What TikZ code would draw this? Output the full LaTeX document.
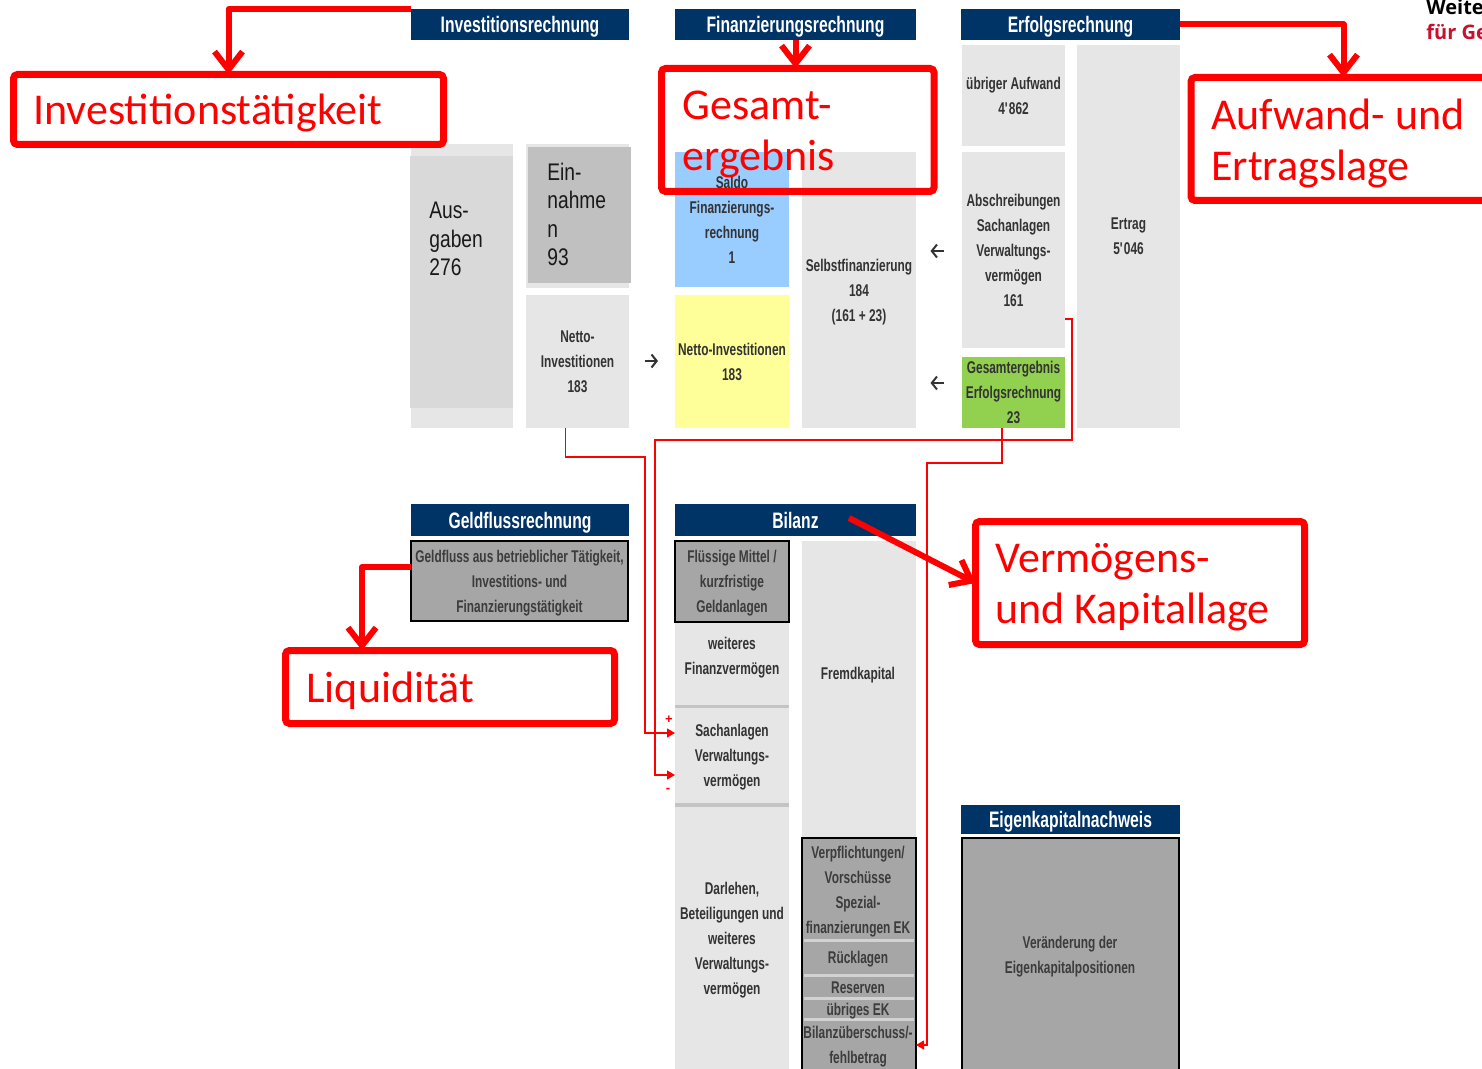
\documentclass[tikz,border=0pt]{standalone}
\usepackage{fontspec}
\setmainfont{Liberation Sans}
\newfontfamily\nar[FakeStretch=0.7]{Liberation Sans}
\newfontfamily\narr[FakeStretch=0.8]{Liberation Sans}
\newfontfamily\calf{Carlito}
\newfontfamily\logof{Open Sans}
\usetikzlibrary{arrows.meta,calc}
\definecolor{navy}{HTML}{003366}
\definecolor{lg}{HTML}{E6E6E6}
\definecolor{lgb}{HTML}{D9D9D9}
\definecolor{gc}{HTML}{C0C0C0}
\definecolor{mg}{HTML}{A6A6A6}
\definecolor{txt}{HTML}{333333}
\definecolor{txtb}{HTML}{3C3C3C}
\definecolor{sblue}{HTML}{99CCFF}
\definecolor{syel}{HTML}{FFFF99}
\definecolor{sgreen}{HTML}{92D050}
\definecolor{logored}{HTML}{C8102E}
\definecolor{sepc}{HTML}{C4C4C4}
\definecolor{sepd}{HTML}{D2D2D2}
\definecolor{annred}{HTML}{FF0000}

\newcommand\bx[7]{\node[#6, minimum width={(#4-#2)*0.5pt}, minimum height={(#5-#3)*0.5pt}] (#1) at ({(#2+#4)/2},{(#3+#5)/2}) {#7};}

\tikzset{
  hdr/.style={fill=navy, text=white, inner sep=0, outer sep=0, text depth=0pt, font=\nar\bfseries\fontsize{11.2}{13}\selectfont},
  lbox/.style={fill=lg, inner sep=0, outer sep=0, text=txt, align=center, text depth=0pt, font=\nar\bfseries\fontsize{8.5}{12.5}\selectfont},
  gbox/.style={lbox, fill=mg, draw=black, line width=1.3pt, text=txtb},
  txtn/.style={inner sep=0, outer sep=0, text=txt, align=center, text depth=0pt, font=\nar\bfseries\fontsize{8.5}{12.5}\selectfont},
  bigtext/.style={inner sep=0, align=left, text=black!90, font=\narr\fontsize{12}{14.3}\selectfont},
  glypharrow/.style={draw=txt, line width=1pt, -{Straight Barb[length=2.6pt,width=6.5pt]}},
  ann/.style={draw=annred, line width=3.5pt, rounded corners=2pt, inner sep=0, outer sep=0},
  anntext/.style={inner sep=0, text=annred, font=\calf\fontsize{22}{25}\selectfont, anchor=base west},
  bigarrow/.style={draw=annred, line width=3pt, line join=round, -{Straight Barb[length=9pt,width=14pt]}},
  thinarrow/.style={draw=annred, line width=0.6pt, -{Triangle[length=4pt,width=4.5pt]}},
  pm/.style={inner sep=0, text=annred, font=\bfseries\fontsize{6.5}{7}\selectfont},
}

\begin{document}
\begin{tikzpicture}[x=0.5pt,y=-0.5pt]
\useasboundingbox (0,0) rectangle (1482,1069);
\clip (0,0) rectangle (1482,1069);
\fill[white] (0,0) rectangle (1482,1069);

% headers
\bx{invh}{411}{9}{629}{40}{hdr}{Investitionsrechnung}
\bx{finh}{675}{9}{916}{40}{hdr}{Finanzierungsrechnung}
\bx{erfh}{961}{9}{1180}{40}{hdr}{Erfolgsrechnung}
\bx{gfh}{411}{504}{629}{536}{hdr}{Geldflussrechnung}
\bx{bilh}{675}{504}{916}{536}{hdr}{Bilanz}
\bx{ekh}{961}{805}{1180}{834}{hdr}{Eigenkapitalnachweis}

% Investitionsrechnung
\bx{ausbg}{411}{144}{513}{428}{lbox}{}
\bx{aus}{410}{156}{513}{408}{lbox,fill=lgb}{}
\node[bigtext, anchor=west] (aust) at (429,239) {Aus-\\gaben\\276};
\bx{einbg}{526}{144}{629}{288}{lbox}{}
\bx{ein}{528}{147}{631}{283}{lbox,fill=gc}{}
\node[bigtext, anchor=west] (eint) at (547,214.5) {Ein-\\nahme\\n\\93};
\bx{ni}{526}{295}{629}{428}{lbox}{Netto-\\Investitionen\\183}
\draw[glypharrow] (644.5,361) -- (658,361);

% Finanzierungsrechnung
\bx{saldo}{675}{152}{789}{287}{lbox,fill=sblue}{Saldo\\Finanzierungs-\\rechnung\\1}
\bx{nif}{675}{295}{789}{428}{lbox,fill=syel}{Netto-Investitionen\\183}
\bx{selbst}{802}{152}{916}{428}{lbox}{Selbstfinanzierung\\184\\(161 + 23)}
\draw[glypharrow] (944,251) -- (930.5,251);
\draw[glypharrow] (944,383) -- (930.5,383);

% Erfolgsrechnung
\bx{uebr}{962}{45}{1065}{146}{lbox}{übriger Aufwand\\4\textquotesingle 862}
\bx{abs}{962}{152}{1065}{348}{lbox}{Abschreibungen\\Sachanlagen\\Verwaltungs-\\vermögen\\161}
\bx{ges}{962}{357}{1065}{428}{lbox,fill=sgreen}{Gesamtergebnis\\Erfolgsrechnung\\23}
\bx{ertrag}{1077}{45}{1180}{428}{lbox}{Ertrag\\5\textquotesingle 046}

% Geldflussrechnung
\bx{gf}{411}{541}{628}{621}{gbox}{Geldfluss aus betrieblicher Tätigkeit,\\Investitions- und\\Finanzierungstätigkeit}

% Bilanz
\fill[sepc] (675,622) rectangle (789,1080);
\bx{wfv}{675}{622}{789}{705}{lbox}{}
\node[txtn] (wfvt) at (732,655.5) {weiteres\\Finanzvermögen};
\bx{sach}{675}{708}{789}{803}{lbox}{Sachanlagen\\Verwaltungs-\\vermögen}
\bx{darl}{675}{807}{789}{1080}{lbox}{}
\node[txtn] (darlt) at (732,938) {Darlehen,\\Beteiligungen und\\weiteres\\Verwaltungs-\\vermögen};
\bx{fl}{675}{541}{789}{622}{gbox}{Flüssige Mittel /\\kurzfristige\\Geldanlagen}
\bx{fk}{802}{541}{916}{838}{lbox}{}
\node[txtn] (fkt) at (858,673) {Fremdkapital};
\bx{ekb}{802}{838}{916}{1085}{gbox}{}
\foreach \yy in {940,975,998,1019} \draw[sepd, line width=1.5pt] (804,\yy) -- (914,\yy);
\node[txtn, text=txtb] (ek1) at (858,889.5) {Verpflichtungen/\\Vorschüsse\\Spezial-\\finanzierungen EK};
\node[txtn, text=txtb] (ek2) at (858,957) {Rücklagen};
\node[txtn, text=txtb] (ek3) at (858,988) {Reserven};
\node[txtn, text=txtb] (ek4) at (858,1009) {übriges EK};
\node[txtn, text=txtb] (bue) at (858,1045) {Bilanzüberschuss/-\\fehlbetrag};

% Eigenkapitalnachweis
\bx{ekn}{962}{838}{1179}{1085}{gbox}{}
\node[txtn, text=txtb] (eknt) at (1070,954.5) {Veränderung der\\Eigenkapitalpositionen};

% thin red connectors
\draw[thinarrow] ([xshift=-6pt]ni.south) |- (645,457) |- ([yshift=11.25pt]sach.west);
\draw[thinarrow] ([yshift=-34.5pt]abs.east) -| (1072,440) -| (655,775) -- ([yshift=-9.75pt]sach.west);
\draw[thinarrow] ([xshift=-5.75pt]ges.south) |- (927,463) |- (ekb.east |- bue);
\node[pm] (plus) at (669,720) {+};
\node[pm] (minus) at (668,790) {-};

% logo text
\node[anchor=base west, inner sep=0, font=\logof\bfseries\fontsize{10}{11}\selectfont] (logoa) at (1426,15) {Weite};
\node[anchor=base west, inner sep=0, text=logored, font=\logof\bfseries\fontsize{10}{11}\selectfont] (logob) at (1426,40) {für Ge};

% red annotations
\bx{invt}{13.5}{74.5}{443.5}{144.5}{ann}{}
\node[anntext] (invtt) at (33,125) {Investitionstätigkeit};
\bx{gesb}{661.5}{68.5}{934}{191.5}{ann}{}
\node[anntext] (gesta) at (682,120) {Gesamt-};
\node[anntext] (gestb) at (682,171) {ergebnis};
\bx{aufw}{1191}{77.5}{1496}{200.5}{ann}{}
\node[anntext] (aufta) at (1211,130) {Aufwand- und};
\node[anntext] (auftb) at (1211,181) {Ertragslage};
\bx{liq}{285.5}{650.5}{614.5}{723.5}{ann}{}
\node[anntext] (liqt) at (306,702) {Liquidität};
\bx{verm}{975.5}{521.5}{1304.5}{644.5}{ann}{}
\node[anntext] (verma) at (995,572) {Vermögens-};
\node[anntext] (vermb) at (995,623) {und Kapitallage};

\coordinate (vst) at (849,518);
\draw[bigarrow] (invh.north west) -| (invt.north);
\draw[bigarrow] (finh.south) -- (finh.south |- gesb.north);
\draw[bigarrow] (erfh.east) -| (aufw.north);
\draw[bigarrow] ([yshift=7pt]gf.west) -| ([xshift=-44pt]liq.north);
\draw[bigarrow] (vst) -- (verm.west);
\end{tikzpicture}
\end{document}
